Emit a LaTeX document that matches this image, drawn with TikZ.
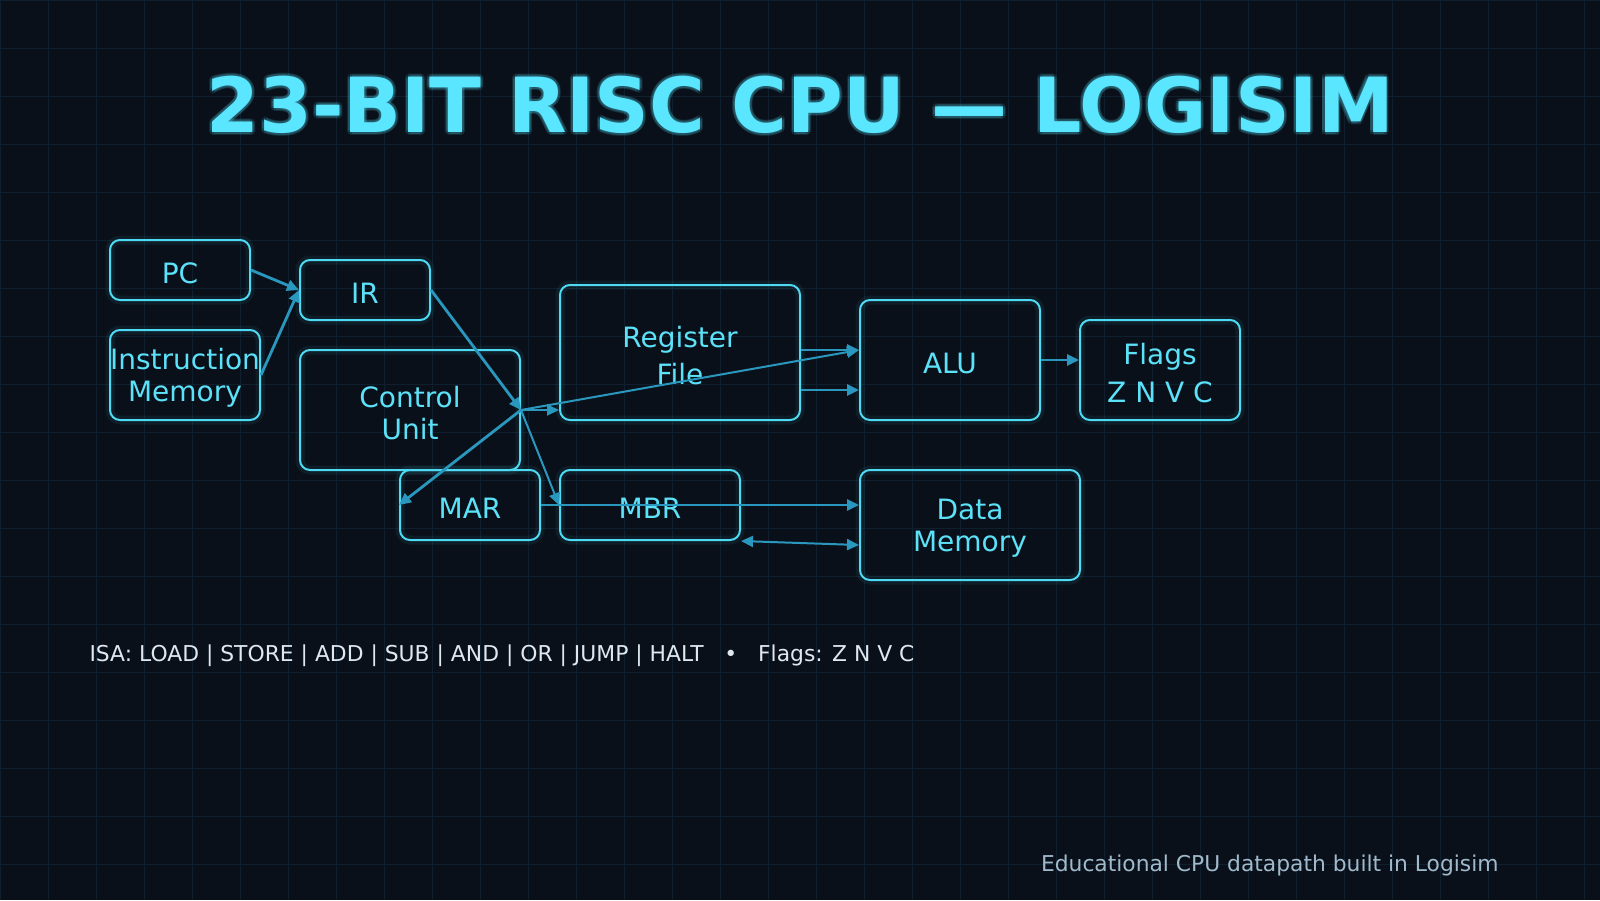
\documentclass[tikz,border=0pt]{standalone}
\usepackage{fontspec}
\setmainfont{DejaVu Sans}
\usetikzlibrary{arrows.meta,calc}
\definecolor{Bg}{RGB}{10,16,26}
\definecolor{GridC}{RGB}{16,31,45}
\definecolor{Edge}{RGB}{78,218,242}
\definecolor{Label}{RGB}{92,226,248}
\definecolor{Wire}{RGB}{42,152,190}
\definecolor{Title}{RGB}{90,230,255}
\definecolor{Note}{RGB}{222,232,240}
\definecolor{Foot}{RGB}{160,186,204}
\newcommand{\lift}{\rule{0pt}{26.5pt}}

\tikzset{
  gridln/.style={draw=GridC,line width=1pt},
  blk/.style={draw=Edge,line width=2pt,rounded corners=10pt,inner sep=0pt,
    text=Label,align=center,font=\fontsize{28}{32}\selectfont,
    preaction={draw=Edge,line width=9pt,draw opacity=.07}},
  wire/.style={draw=Wire,line width=2.8pt,-{Triangle[length=12pt,width=11pt]}},
  thinwire/.style={wire,line width=2pt},
}

\begin{document}
\begin{tikzpicture}[x=1pt,y=-1pt]
\useasboundingbox (0,0) rectangle (1600,900);
\fill[Bg] (0,0) rectangle (1600,900);
\foreach \gx in {0,48,...,1584} \draw[gridln] (\gx,0) -- (\gx,900);
\foreach \gy in {0,48,...,864} \draw[gridln] (0,\gy) -- (1600,\gy);

% title with a soft glow
\foreach \dx/\dy [count=\i] in {3/0,-3/0,0/3,0/-3,2/2,-2/2,2/-2,-2/-2}
  \node[anchor=base,font=\fontsize{76}{80}\selectfont\bfseries,text=Title,opacity=.12]
    (glow\i) at (800+\dx,132+\dy) {23-BIT RISC CPU — LOGISIM};
\node[anchor=base,font=\fontsize{76}{80}\selectfont\bfseries,text=Title] (title) at (800,132) {23-BIT RISC CPU — LOGISIM};

% blocks
\node[blk,minimum width=140,minimum height=60] (pc) at (180,270) {\lift PC};
\node[blk,minimum width=130,minimum height=60] (ir) at (365,290) {\lift IR};
\node[blk,minimum width=150,minimum height=90] (im) at (185,375) {\lift Instruction\\Memory};
\node[blk,minimum width=220,minimum height=120] (cu) at (410,410) {\lift Control\\Unit};
\node[blk,minimum width=240,minimum height=135] (rf) at (680,352.5) {\lift Register\\[5pt]File};
\node[blk,minimum width=180,minimum height=120] (alu) at (950,360) {\lift ALU};
\node[blk,minimum width=160,minimum height=100] (flags) at (1160,370) {\lift Flags\\[6pt]Z N V C};
\node[blk,minimum width=140,minimum height=70] (mar) at (470,505) {\lift MAR};
\node[blk,minimum width=180,minimum height=70] (mbr) at (650,505) {\lift MBR};
\node[blk,minimum width=220,minimum height=110] (dm) at (970,525) {\lift Data\\Memory};

% datapath
\draw[wire] (pc.east) -- (ir.west);
\draw[wire] (im.east) -- (ir.west);
\draw[wire] (ir.east) -- (cu.east);
\draw[thinwire] (cu.east) -- (cu.east -| rf.west);
\draw[thinwire] (cu.east) -- ($(alu.west)+(0,-10)$);
\draw[wire] ($(rf.east)+(0,-2.5)$) -- ($(alu.west)+(0,-10)$);
\draw[wire] ($(rf.east)+(0,37.5)$) -- ($(alu.west)+(0,30)$);
\draw[wire] (cu.east) -- (mar.west);
\draw[thinwire] (cu.east) -- (mbr.west);
\draw[wire] (mar.east) -- (mar.east -| dm.west);
\draw[thinwire,{Triangle[length=12pt,width=11pt]}-{Triangle[length=12pt,width=11pt]}] (mbr.south east) -- ($(dm.west)+(0,20)$);
\draw[wire] (alu.east) -- (alu.east -| flags.west);

% notes
\node[anchor=base west,font=\fontsize{21.85}{26}\selectfont,text=Note] (isa) at (86,661)
  {ISA: LOAD | STORE | ADD | SUB | AND | OR | JUMP | HALT~~~•~~~Flags: Z N V C};
\node[anchor=base east,font=\fontsize{21.8}{26}\selectfont,text=Foot] (foot) at (1502,871)
  {Educational CPU datapath built in Logisim};
\end{tikzpicture}
\end{document}
